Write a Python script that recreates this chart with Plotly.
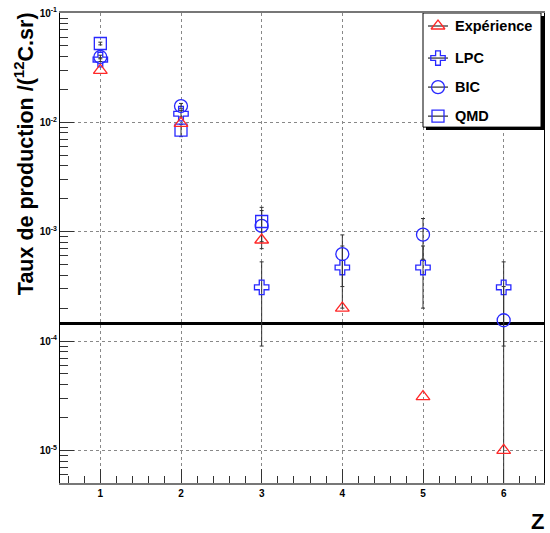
import plotly.graph_objects as go
import numpy as np

# ---- data ----
Z = [1, 2, 3, 4, 5, 6]
exp_vals = [0.0299, 0.0098, 8.4e-4, 2.0e-4, 3.1e-5, 1.0e-5]
lpc_vals = [0.0375, 0.0120, 3.1e-4, 4.7e-4, 4.7e-4, 3.1e-4]
lpc_err = [0.0015, 0.0008, 2.2e-4, 2.7e-4, 2.7e-4, 2.2e-4]
bic_vals = [0.0396, 0.0141, 1.13e-3, 6.25e-4, 9.4e-4, 1.55e-4]
bic_err = [0.0015, 0.0008, 4.3e-4, 3.1e-4, 3.8e-4, 1.6e-4]
qmd_Z = [1, 2, 3]
qmd_vals = [0.0526, 0.0085, 1.24e-3]
qmd_err = [0.0015, 0.0011, 4.3e-4]
threshold_x = [0.5, 6.5]
threshold_y = [1.45e-4, 1.45e-4]

ytick_vals = [1e-5, 1e-4, 1e-3, 1e-2, 1e-1]
ytick_text = ["10<sup>-5</sup>", "10<sup>-4</sup>", "10<sup>-3</sup>", "10<sup>-2</sup>", "10<sup>-1</sup>"]
xtick_vals = [1, 2, 3, 4, 5, 6]
xtick_text = ["1", "2", "3", "4", "5", "6"]

legend_names = ["Expérience", "LPC", "BIC", "QMD"]

RED = "rgb(255,40,40)"
BLUE = "rgb(40,40,255)"
FONT = "Liberation Sans"

# plot-area geometry (pixels) used for placing the hand-drawn legend
PX_L, PX_R, PX_T, PX_B = 60, 544, 13, 482.5
X_RANGE = [0.5, 6.5]
Y_RANGE = [-5.298, -1]


def px_to_x(px):
    return X_RANGE[0] + (px - PX_L) / (PX_R - PX_L) * (X_RANGE[1] - X_RANGE[0])


def py_to_y(py):
    return 10 ** (Y_RANGE[1] - (py - PX_T) / (PX_B - PX_T) * (Y_RANGE[1] - Y_RANGE[0]))


fig = go.Figure()

err_style = dict(color="#333333", thickness=1, width=2)

fig.add_trace(go.Scatter(x=threshold_x, y=threshold_y, mode="lines",
                         line=dict(color="black", width=3), showlegend=False,
                         hoverinfo="skip"))

fig.add_trace(go.Scatter(x=Z, y=lpc_vals, mode="markers", name="LPC",
                         error_y=dict(type="data", array=lpc_err, **err_style),
                         marker=dict(symbol="cross-open", size=12, color=BLUE,
                                     line=dict(color=BLUE, width=1.3)),
                         showlegend=False))
fig.add_trace(go.Scatter(x=Z, y=bic_vals, mode="markers", name="BIC",
                         error_y=dict(type="data", array=bic_err, **err_style),
                         marker=dict(symbol="circle-open", size=13, color=BLUE,
                                     line=dict(color=BLUE, width=1.3)),
                         showlegend=False))
fig.add_trace(go.Scatter(x=qmd_Z, y=qmd_vals, mode="markers", name="QMD",
                         error_y=dict(type="data", array=qmd_err, **err_style),
                         marker=dict(symbol="square-open", size=12, color=BLUE,
                                     line=dict(color=BLUE, width=1.3)),
                         showlegend=False))
fig.add_trace(go.Scatter(x=Z, y=exp_vals, mode="markers", name="Expérience",
                         marker=dict(symbol="triangle-up-open", size=12, color=RED,
                                     line=dict(color=RED, width=1.3)),
                         showlegend=False))

# ---- hand-drawn legend ----
leg_py = [26, 58, 87, 116]
leg_symbols = ["triangle-up-open", "cross-open", "circle-open", "square-open"]
leg_sizes = [12, 12, 13, 12]
leg_colors = [RED, BLUE, BLUE, BLUE]

fig.add_shape(type="rect", xref="x", yref="y",
              x0=px_to_x(426), x1=px_to_x(544), y0=py_to_y(130), y1=py_to_y(16),
              fillcolor="black", line=dict(width=0), layer="between")
fig.add_shape(type="rect", xref="x", yref="y",
              x0=px_to_x(423), x1=px_to_x(541), y0=py_to_y(127), y1=py_to_y(13),
              fillcolor="white", line=dict(color="black", width=1), layer="between")

for i, name in enumerate(legend_names):
    yy = py_to_y(leg_py[i])
    fig.add_trace(go.Scatter(x=[px_to_x(428), px_to_x(448)], y=[yy, yy], mode="lines",
                             line=dict(color="black", width=1),
                             showlegend=False, hoverinfo="skip", cliponaxis=False))
    fig.add_trace(go.Scatter(x=[px_to_x(438)], y=[yy], mode="markers",
                             marker=dict(symbol=leg_symbols[i], size=leg_sizes[i],
                                         color=leg_colors[i],
                                         line=dict(color=leg_colors[i], width=1.3)),
                             showlegend=False, hoverinfo="skip", cliponaxis=False))
    fig.add_annotation(x=px_to_x(453), y=np.log10(yy), xref="x", yref="y", text=name,
                       showarrow=False, xanchor="left", yanchor="middle",
                       font=dict(family=FONT, size=14.5, color="black", weight="bold"))

fig.update_layout(
    width=550, height=533,
    margin=dict(l=60, r=6, t=13, b=50),
    paper_bgcolor="white", plot_bgcolor="white",
    showlegend=False,
    xaxis=dict(range=X_RANGE, tickvals=xtick_vals, ticktext=xtick_text,
               ticks="inside", ticklen=14, tickcolor="#333", tickwidth=1,
               minor=dict(ticks="inside", ticklen=7, dtick=0.2, tick0=0, tickcolor="#333",
                          showgrid=False),
               showgrid=True, gridcolor="#888", griddash="dot", gridwidth=1,
               showline=True, linecolor="#777", linewidth=2, mirror=True,
               tickfont=dict(family=FONT, size=10, color="black", weight="bold"),
               zeroline=False),
    yaxis=dict(type="log", range=Y_RANGE, tickvals=ytick_vals, ticktext=ytick_text,
               ticks="inside", ticklen=14, tickcolor="#333", tickwidth=1,
               minor=dict(ticks="inside", ticklen=8, tickcolor="#333",
                          tickvals=[m * 10.0 ** e for e in range(-6, -1) for m in range(2, 10)],
                          showgrid=False),
               showgrid=True, gridcolor="#888", griddash="dot", gridwidth=1,
               showline=True, linecolor="black", linewidth=1, mirror=True,
               tickfont=dict(family=FONT, size=10, color="black", weight="bold"),
               zeroline=False),
)

fig.add_annotation(x=(537 - 60) / 484, y=(482.5 - 521) / 469.5, xref="paper", yref="paper",
                   text="Z", showarrow=False, xanchor="center", yanchor="middle",
                   font=dict(family=FONT, size=22, color="black", weight="bold"))
fig.add_annotation(x=(24 - 60) / 484, y=1.005, xref="paper", yref="paper",
                   text="Taux de production /(<sup>12</sup>C.sr)", textangle=-90,
                   showarrow=False, xanchor="center", yanchor="top",
                   font=dict(family=FONT, size=21.5, color="black", weight="bold"))

fig.write_html("out.html", config={"displayModeBar": False},
               post_script="document.body.style.margin='0px';document.body.style.overflow='hidden';")
